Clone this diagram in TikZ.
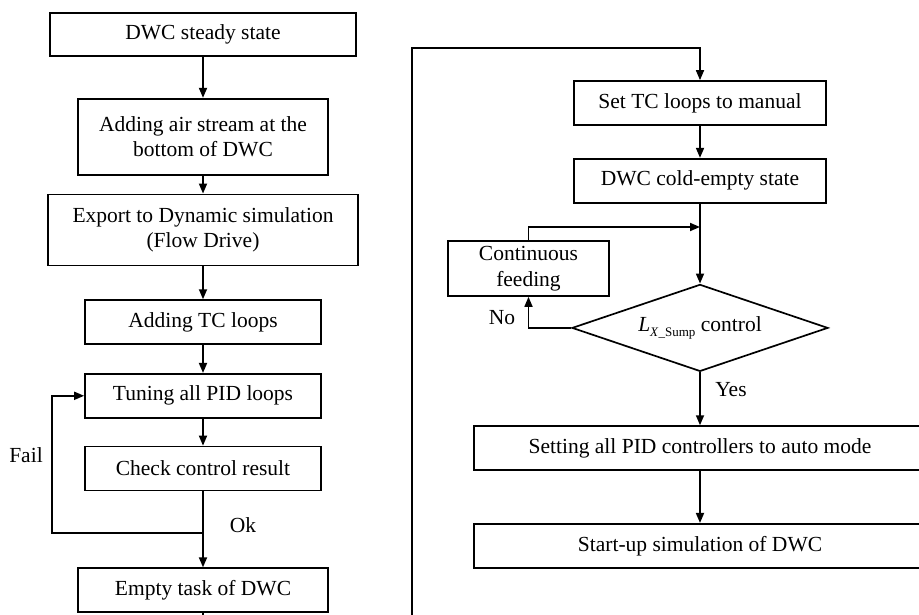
\documentclass[tikz,border=0pt]{standalone}
\usepackage{fontspec}
\setmainfont{Liberation Serif}
\usetikzlibrary{positioning,arrows.meta,shapes.geometric}
\definecolor{FlowInk}{RGB}{0,0,0}
\tikzset{
  flow/.style={-{Triangle[length=10pt,width=8pt]},line width=1.7pt,draw=FlowInk},
  box/.style={draw=FlowInk,line width=1.7pt,fill=white,minimum height=44pt,
    align=center,inner sep=2pt,font=\fontsize{21.5}{24.5}\selectfont},
  decision/.style={diamond,draw=FlowInk,line width=1.7pt,fill=white,aspect=2.94,
    minimum width=256pt,minimum height=87pt,inner sep=0pt,font=\fontsize{21.5}{24.5}\selectfont},
  tag/.style={font=\fontsize{21.5}{24.5}\selectfont,inner sep=0pt}
}
\newcommand{\sumpsub}{\raisebox{-0.55ex}{\fontsize{13}{14}\selectfont\textit{X}\_Sump}}

\begin{document}
\begin{tikzpicture}[x=1pt,y=-1pt]
  \useasboundingbox (0,0) rectangle (919,615);
  \clip (0,0) rectangle (919,615);

  % left column
  \node[box,minimum width=306pt,minimum height=43pt] (steady) at (203,34.5) {DWC steady state};
  \node[box,minimum width=250pt,minimum height=76pt,below=41pt of steady] (air) {Adding air stream at the\\bottom of DWC};
  \node[box,minimum width=310pt,minimum height=71pt,below=18pt of air] (export) {Export to Dynamic simulation\\(Flow Drive)};
  \node[box,minimum width=236pt,below=33pt of export] (tcloops) {Adding TC loops};
  \node[box,minimum width=236pt,below=28pt of tcloops] (tune) {Tuning all PID loops};
  \node[box,minimum width=236pt,below=27pt of tune] (check) {Check control result};
  \node[box,minimum width=250pt,below=76pt of check] (empty) {Empty task of DWC};
  \draw[flow] (steady) -- (air);
  \draw[flow] (air) -- (export);
  \draw[flow] (export) -- (tcloops);
  \draw[flow] (tcloops) -- (tune);
  \draw[flow] (tune) -- (check);
  \draw[flow] (check) -- (empty);

  \coordinate (okjoint) at (203,533);
  \coordinate (failturn) at (52,533);
  \draw[flow] (okjoint) -- (failturn) |- (tune.west);
  \node[tag] (fail) at (26,455) {Fail};
  \node[tag] (ok) at (243,525) {Ok};

  % right column
  \node[box,minimum width=252pt] (manual) at (700,103) {Set TC loops to manual};
  \node[box,minimum width=252pt,below=32pt of manual] (cold) {DWC cold-empty state};
  \node[decision,below=80pt of cold] (decide) {\textit{L}\sumpsub{} control};
  \node[box,minimum width=161pt,minimum height=55pt] (feed) at (528.5,268.5) {Continuous\\[2pt]feeding};
  \node[box,minimum width=452pt,below=53pt of decide] (setpid) {Setting all PID controllers to auto mode};
  \node[box,minimum width=452pt,below=52pt of setpid] (startup) {Start-up simulation of DWC};
  \draw[flow] (manual) -- (cold);
  \draw[flow] (cold) -- (decide);
  \coordinate (merge) at (700,227);
  \draw[flow] (feed.north) |- (merge);
  \draw[flow] (decide.west) -| (feed.south);
  \draw[flow] (decide) -- (setpid);
  \draw[flow] (setpid) -- (startup);
  \node[tag] (no) at (502,318) {No};
  \node[tag] (yes) at (731,390) {Yes};

  % wrap-around link
  \coordinate (wraplow) at (412,660);
  \coordinate (wraptop) at (412,48);
  \draw[flow] (empty.south) |- (wraplow) -- (wraptop) -| (manual.north);
\end{tikzpicture}
\end{document}
